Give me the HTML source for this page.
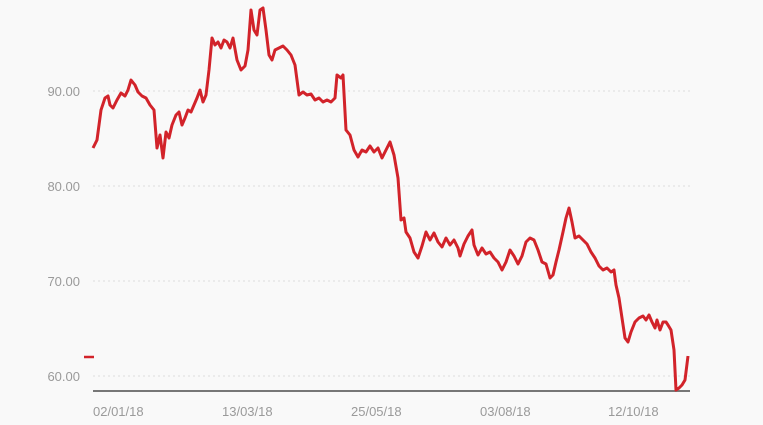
<!DOCTYPE html>
<html><head><style>
body{margin:0;background:#f9f9f9;}
svg{display:block;font-family:"Century Gothic","URW Gothic","Liberation Sans",sans-serif;}
</style></head><body>
<svg width="763" height="425" viewBox="0 0 763 425">
<rect width="763" height="425" fill="#f9f9f9"/>
<g stroke="#ddd" stroke-dasharray="2,3" stroke-width="1">
<line x1="93" y1="91" x2="690" y2="91"/>
<line x1="93" y1="186" x2="690" y2="186"/>
<line x1="93" y1="281" x2="690" y2="281"/>
<line x1="93" y1="376" x2="690" y2="376"/>
</g>
<line x1="93" y1="391" x2="690" y2="391" stroke="#777" stroke-width="2"/>
<g fill="#9a9a9a" font-size="13" text-anchor="end">
<text x="80" y="96">90.00</text>
<text x="80" y="191">80.00</text>
<text x="80" y="286">70.00</text>
<text x="80" y="381">60.00</text>
</g>
<g fill="#9a9a9a" font-size="13">
<text x="93" y="416">02/01/18</text>
<text x="222" y="416">13/03/18</text>
<text x="351" y="416">25/05/18</text>
<text x="480" y="416">03/08/18</text>
<text x="608" y="416">12/10/18</text>
</g>
<line x1="84" y1="357" x2="94" y2="357" stroke="#d2232a" stroke-width="2.5"/>
<polyline fill="none" stroke="#d2232a" stroke-width="3" stroke-linejoin="round" points="93,148 97,140 101,110 105,98 108,96 110,105 113,108 117,100 121,93 125,96 128,90 131,80 135,85 138,92 142,96 146,98 150,105 154,110 157,148 160,135 163,158 166,132 169,138 172,125 176,115 179,112 182,125 185,118 188,110 191,112 194,105 197,98 200,90 203,102 206,95 209,70 212,38 215,45 218,42 221,48 224,40 227,42 230,48 233,38 237,60 241,70 245,66 248,50 251,10 254,30 257,35 260,10 263,8 266,30 269,55 272,60 275,50 279,48 283,46 287,50 291,55 295,65 299,95 303,92 307,95 311,94 315,100 319,98 323,102 327,100 331,102 335,98 337,75 341,78 343,75 346,130 350,135 354,150 358,157 362,150 366,152 370,146 374,152 378,148 382,158 386,150 390,142 394,155 398,178 401,220 404,218 406,232 410,238 414,252 418,258 422,246 426,232 430,240 434,233 438,242 442,247 446,238 450,245 454,240 458,248 460,256 464,244 468,236 472,230 474,245 478,255 482,248 486,254 490,252 494,258 498,262 502,270 506,262 510,250 514,256 518,264 522,256 526,242 530,238 534,240 538,250 542,262 546,264 550,278 553,275 556,262 559,250 563,232 566,218 569,208 572,222 575,238 579,236 583,240 587,244 591,252 595,258 599,266 603,270 607,268 611,272 614,270 616,285 619,298 622,318 625,338 628,342 631,332 635,322 639,318 643,316 646,320 649,315 652,322 655,328 657,320 660,330 663,322 666,322 668,325 671,330 674,350 676,390 679,388 682,385 685,380 688,356"/>
</svg>
</body></html>
